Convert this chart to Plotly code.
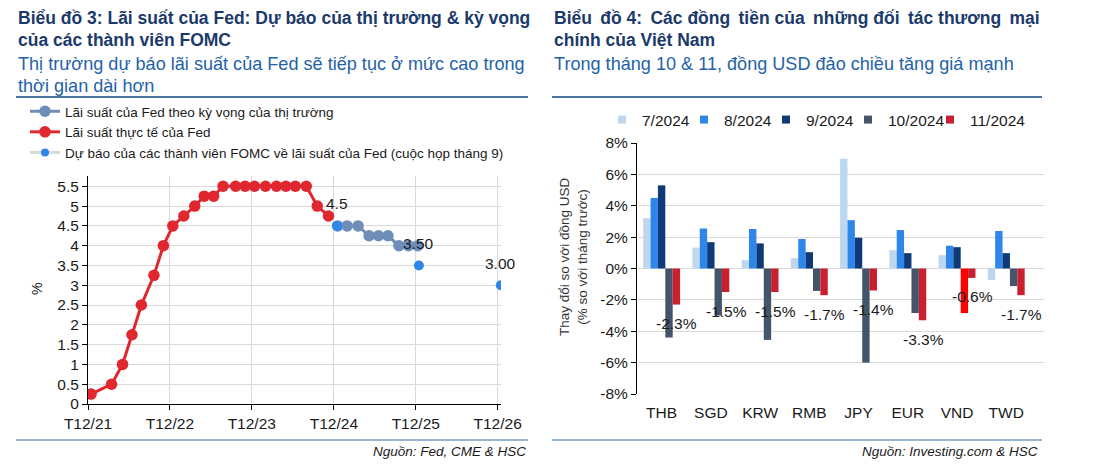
import plotly.graph_objects as go

# ---------------- DATA ----------------
# Left chart: Fed funds rate (upper bound)
actual_dates = ['2021-12-15', '2022-03-16', '2022-05-04', '2022-06-15', '2022-07-27', '2022-09-21',
                '2022-11-02', '2022-12-14', '2023-02-01', '2023-03-22', '2023-05-03', '2023-06-14',
                '2023-07-26', '2023-09-20', '2023-11-01', '2023-12-13', '2024-01-31', '2024-03-20',
                '2024-05-01', '2024-06-12', '2024-07-31', '2024-09-18', '2024-11-07']
actual_rates = [0.25, 0.5, 1.0, 1.75, 2.5, 3.25, 4.0, 4.5, 4.75, 5.0, 5.25, 5.25,
                5.5, 5.5, 5.5, 5.5, 5.5, 5.5, 5.5, 5.5, 5.5, 5.0, 4.75]

market_dates = ['2024-12-18', '2025-01-29', '2025-03-19', '2025-05-07', '2025-06-18',
                '2025-07-30', '2025-09-17', '2025-10-29', '2025-12-10']
market_rates = [4.5, 4.5, 4.5, 4.25, 4.25, 4.25, 4.0, 4.0, 4.0]

fomc_dates = ['2024-12-15', '2025-12-15', '2026-12-15']
fomc_rates = [4.5, 3.5, 3.0]
fomc_labels = ['4.5', '3.50', '3.00']

left_tick_dates = ['2021-12-01', '2022-12-01', '2023-12-01', '2024-12-01', '2025-12-01', '2026-12-01']
left_tick_text = ['T12/21', 'T12/22', 'T12/23', 'T12/24', 'T12/25', 'T12/26']
left_ytick_vals = [0, 0.5, 1, 1.5, 2, 2.5, 3, 3.5, 4, 4.5, 5, 5.5]

name_market = 'Lãi suất của Fed theo kỳ vọng của thị trường'
name_actual = 'Lãi suất thực tế của Fed'
name_fomc = 'Dự báo của các thành viên FOMC về lãi suất của Fed (cuộc họp tháng 9)'

# Right chart: currency change vs USD (% m/m)
currencies = ['THB', 'SGD', 'KRW', 'RMB', 'JPY', 'EUR', 'VND', 'TWD']
months = ['7/2024', '8/2024', '9/2024', '10/2024', '11/2024']
chg_jul = [3.2, 1.33, 0.53, 0.66, 7.0, 1.17, 0.85, -0.74]
chg_aug = [4.5, 2.55, 2.52, 1.88, 3.08, 2.45, 1.45, 2.39]
chg_sep = [5.3, 1.68, 1.6, 1.04, 1.96, 0.98, 1.36, 0.98]
chg_oct = [-4.4, -3.0, -4.55, -1.43, -6.0, -2.84, -2.84, -1.12]
chg_nov = [-2.3, -1.5, -1.5, -1.7, -1.4, -3.3, -0.6, -1.7]
highlight_currency = 'VND'

right_ytick_vals = [-8, -6, -4, -2, 0, 2, 4, 6, 8]

# ---------------- STYLE ----------------
W, H = 1100, 467
FONT = 'Liberation Sans, Arial, sans-serif'
C_TITLE = '#1B3A6B'
C_SUB = '#2462A8'
C_RED = '#E0262F'
C_MARKET = '#6E8DB9'
C_FOMC = '#2F86EA'
C_GRID = '#D9D9D9'
C_TEXT = '#1A1A1A'
series_colors = ['#BDD7EE', '#2F86EA', '#0E3A78', '#44546A', '#C8202F']
C_HIGHLIGHT = '#FF0000'


def fx(p):
    return p / W


def fy(p):
    return 1 - p / H


fig = go.Figure()

# ---- Left chart traces ----
fig.add_trace(go.Scatter(
    x=actual_dates, y=actual_rates, mode='lines+markers', name=name_actual,
    line=dict(color=C_RED, width=3), marker=dict(color=C_RED, size=11.5),
    xaxis='x', yaxis='y', legend='legend', legendrank=2, legendgroup='a'))
fig.add_trace(go.Scatter(
    x=market_dates, y=market_rates, mode='lines+markers', name=name_market,
    line=dict(color=C_MARKET, width=3), marker=dict(color=C_MARKET, size=11.5),
    xaxis='x', yaxis='y', legend='legend', legendrank=1, legendgroup='m'))
fig.add_trace(go.Scatter(
    x=fomc_dates, y=fomc_rates, mode='markers', name=name_fomc, showlegend=False,
    marker=dict(color=C_FOMC, size=10), xaxis='x', yaxis='y'))
fig.add_trace(go.Scatter(
    x=[None], y=[None], mode='lines+markers', name=name_fomc,
    line=dict(color=C_GRID, width=3), marker=dict(color=C_FOMC, size=8),
    xaxis='x', yaxis='y', legend='legend', legendrank=3, legendgroup='f'))

for d, v, t in zip(fomc_dates, fomc_rates, fomc_labels):
    fig.add_annotation(x=d, y=v, xref='x', yref='y', text=t, showarrow=False,
                       yshift=22, font=dict(size=15.5, color=C_TEXT, family=FONT))

# ---- Right chart traces ----
series = [chg_jul, chg_aug, chg_sep, chg_oct, chg_nov]
for i, (m, vals) in enumerate(zip(months, series)):
    colors = [series_colors[i]] * len(currencies)
    if m == '10/2024':
        colors = [C_HIGHLIGHT if c == highlight_currency else series_colors[i] for c in currencies]
    fig.add_trace(go.Bar(x=currencies, y=vals, name=m, marker=dict(color=colors, line=dict(width=0)),
                         xaxis='x2', yaxis='y2', showlegend=False))
    fig.add_trace(go.Scatter(x=[None], y=[None], mode='markers', name=m,
                             marker=dict(symbol='square', size=8, color=series_colors[i]),
                             xaxis='x2', yaxis='y2', legend='legend2'))
# invisible spacer entry so the last legend label is not clipped
fig.add_trace(go.Scatter(x=[None], y=[None], mode='markers', name=' ',
                         marker=dict(size=1, color='rgba(0,0,0,0)'),
                         xaxis='x2', yaxis='y2', legend='legend2'))

# ---------------- LAYOUT ----------------
L_X0, L_X1, L_Y0, L_Y1 = 88, 501, 176, 404
R_X0, R_X1, R_Y0, R_Y1 = 637, 1044, 143, 394
BARGAP = 0.25

# Data labels for 11/2024 (centred on the last bar of each group)
bar_w = (R_X1 - R_X0) / len(currencies) * (1 - BARGAP) / len(months)
for c, v in zip(currencies, chg_nov):
    fig.add_annotation(x=c, y=v, xref='x2', yref='y2', text=f'{v:.1f}%', showarrow=False,
                       xshift=2 * bar_w, yshift=-19,
                       font=dict(size=15.5, color=C_TEXT, family=FONT))

fig.update_layout(
    width=W, height=H, margin=dict(l=0, r=0, t=0, b=0, autoexpand=False),
    paper_bgcolor='white', plot_bgcolor='white',
    font=dict(family=FONT, color=C_TEXT),
    barmode='group', bargap=BARGAP, bargroupgap=0.0,
    xaxis=dict(domain=[fx(L_X0), fx(L_X1)], type='date',
               range=['2021-12-01', '2026-12-16'],
               tickvals=left_tick_dates, ticktext=left_tick_text,
               showgrid=True, gridcolor=C_GRID, gridwidth=1,
               showline=True, linecolor='#000', linewidth=1,
               ticks='outside', ticklen=5, tickcolor='#000',
               tickfont=dict(size=15.5, color=C_TEXT), zeroline=False),
    yaxis=dict(domain=[fy(L_Y1), fy(L_Y0)], range=[0, 5.76],
               tickvals=left_ytick_vals, ticktext=[f'{v:g}' for v in left_ytick_vals],
               showgrid=True, gridcolor=C_GRID, gridwidth=1,
               showline=True, linecolor='#000', linewidth=1,
               ticks='outside', ticklen=5, tickcolor='#000',
               tickfont=dict(size=15.5, color=C_TEXT), zeroline=False),
    xaxis2=dict(domain=[fx(R_X0), fx(R_X1)], type='category',
                categoryorder='array', categoryarray=currencies,
                showgrid=False, showline=False, ticks='', ticklabelstandoff=-3,
                tickfont=dict(size=15.5, color=C_TEXT)),
    xaxis3=dict(overlaying='x2', anchor='free', position=fy(R_Y1) + (fy(R_Y0) - fy(R_Y1)) / 2,
                domain=[fx(R_X0), fx(R_X1)], type='linear', range=[-0.5, len(currencies) - 0.5],
                tick0=-0.5, dtick=1, showticklabels=False, ticks='outside', ticklen=5,
                tickcolor='#000', showline=True, linecolor='#000', linewidth=1, showgrid=False,
                zeroline=False),
    yaxis2=dict(domain=[fy(R_Y1), fy(R_Y0)], range=[-8, 8], anchor='x2',
                tickvals=right_ytick_vals, ticktext=[f'{v}%' for v in right_ytick_vals],
                showgrid=True, gridcolor=C_GRID, gridwidth=1,
                showline=True, linecolor='#000', linewidth=1,
                ticks='outside', ticklen=5, tickcolor='#000',
                tickfont=dict(size=15.5, color=C_TEXT), zeroline=False),
    legend=dict(x=fx(25), y=fy(96), xanchor='left', yanchor='top', orientation='v',
                font=dict(size=13.5, color=C_TEXT), bgcolor='rgba(0,0,0,0)',
                tracegroupgap=9, itemwidth=30, traceorder='normal'),
    legend2=dict(x=fx(602), y=fy(120), xanchor='left', yanchor='middle', orientation='h',
                 font=dict(size=15.5, color=C_TEXT), bgcolor='rgba(0,0,0,0)',
                 itemwidth=30, entrywidth=37, traceorder='normal'),
)

# Titles / headers
def note(text, x, y, size, color, bold=False, italic=False, xanchor='left'):
    if bold:
        text = f'<b>{text}</b>'
    if italic:
        text = f'<i>{text}</i>'
    fig.add_annotation(x=fx(x), y=fy(y), xref='paper', yref='paper', text=text, showarrow=False,
                       xanchor=xanchor, yanchor='middle',
                       font=dict(size=size, color=color, family=FONT))


def justify(s):
    words = s.split(' ')
    out = words[0]
    for i, w in enumerate(words[1:]):
        out += (' \u2009' if i % 2 == 0 else ' ') + w
    return out


note('Biểu đồ 3: Lãi suất của Fed: Dự báo của thị trường &amp; kỳ vọng', 16, 18, 17.5, C_TITLE, bold=True)
note('của các thành viên FOMC', 16, 40, 17.5, C_TITLE, bold=True)
note('Thị trường dự báo lãi suất của Fed sẽ tiếp tục ở mức cao trong', 16, 64, 18.1, C_SUB)
note('thời gian dài hơn', 16, 86, 18.1, C_SUB)

note(justify('Biểu đồ 4: Các đồng tiền của những đối tác thương mại'), 552, 18, 17.5, C_TITLE, bold=True)
note('chính của Việt Nam', 552, 40, 17.5, C_TITLE, bold=True)
note('Trong tháng 10 &amp; 11, đồng USD đảo chiều tăng giá mạnh', 552, 64, 18.1, C_SUB)

note('Nguồn: Fed, CME &amp; HSC', 528, 451, 13.5, C_TEXT, italic=True, xanchor='right')
note('Nguồn: Investing.com &amp; HSC', 1040, 451, 13.5, C_TEXT, italic=True, xanchor='right')

# Axis titles
fig.add_annotation(x=fx(27), y=fy(289), xref='paper', yref='paper', text='%', textangle=-90,
                   showarrow=False, font=dict(size=14, color=C_TEXT, family=FONT))
fig.add_annotation(x=fx(573), y=fy(257), xref='paper', yref='paper',
                   text='Thay đổi so với đồng USD<br>(% so với tháng trước)', textangle=-90,
                   showarrow=False, font=dict(size=13.5, color='#333', family=FONT))

# Header / footer rules
for x0, x1 in [(16, 528), (552, 1042)]:
    fig.add_shape(type='line', xref='paper', yref='paper', x0=fx(x0), x1=fx(x1), y0=fy(97), y1=fy(97),
                  line=dict(color='#4A73A0', width=2))
    fig.add_shape(type='line', xref='paper', yref='paper', x0=fx(x0), x1=fx(x1), y0=fy(440), y1=fy(440),
                  line=dict(color='#2F6EA6', width=1))

fig.write_html('out.html')
